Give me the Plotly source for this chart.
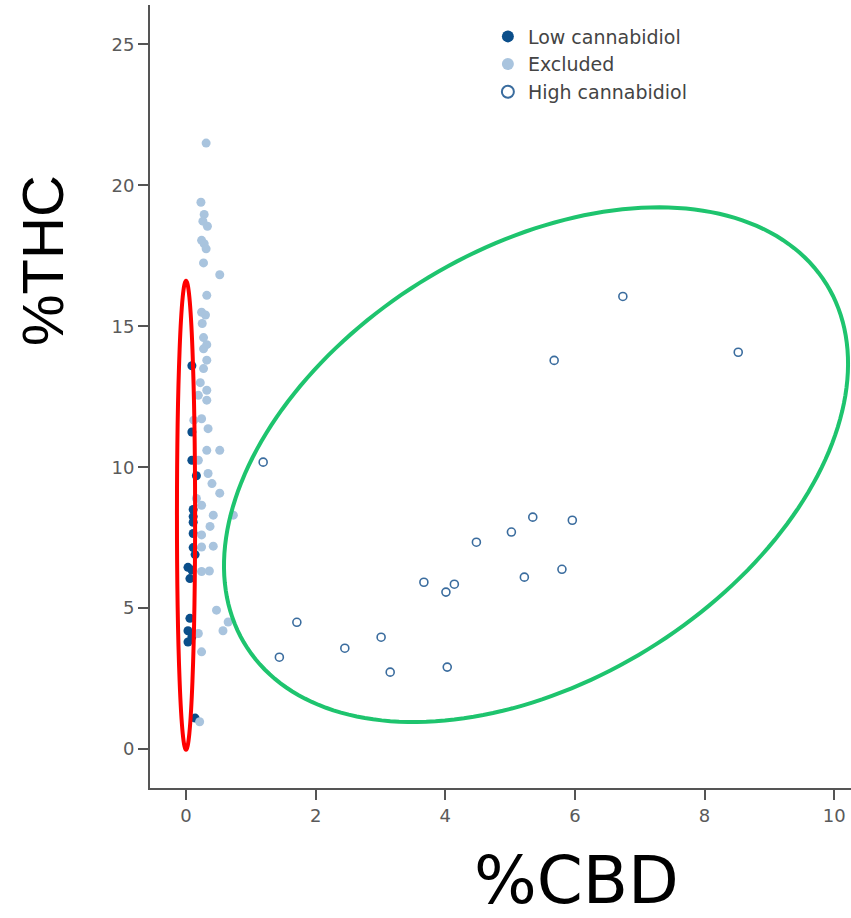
import numpy as np
import plotly.graph_objects as go

# ---- data ----
low_cbd_x = [0.09, 0.09, 0.09, 0.16, 0.11, 0.11, 0.11, 0.11, 0.11, 0.14, 0.03, 0.09, 0.06, 0.06, 0.03, 0.09, 0.03, 0.14]
low_cbd_y = [13.6, 11.25, 10.25, 9.7, 8.5, 8.25, 8.05, 7.65, 7.15, 6.9, 6.45, 6.35, 6.05, 4.64, 4.2, 3.98, 3.8, 1.1]

excl_x = [0.31, 0.23, 0.28, 0.26, 0.33, 0.24, 0.28, 0.31, 0.27, 0.52, 0.32, 0.24, 0.30, 0.25,
          0.27, 0.32, 0.27, 0.32, 0.27, 0.22, 0.32, 0.19, 0.32, 0.12, 0.24, 0.34, 0.32, 0.52,
          0.19, 0.34, 0.40, 0.52, 0.16, 0.24, 0.42, 0.73, 0.37, 0.24, 0.24, 0.42, 0.36, 0.24,
          0.47, 0.65, 0.57, 0.19, 0.24, 0.21]
excl_y = [21.5, 19.4, 18.97, 18.73, 18.55, 18.05, 17.93, 17.75, 17.25, 16.83, 16.1, 15.5, 15.4, 15.1,
          14.6, 14.35, 14.2, 13.8, 13.5, 13.0, 12.73, 12.55, 12.38, 11.67, 11.72, 11.37, 10.6, 10.6,
          10.25, 9.78, 9.42, 9.08, 8.89, 8.65, 8.3, 8.3, 7.9, 7.6, 7.17, 7.2, 6.32, 6.3,
          4.93, 4.51, 4.2, 4.1, 3.45, 0.97]

high_cbd_x = [1.19, 1.44, 1.71, 2.45, 3.01, 3.15, 3.67, 4.01, 4.14, 4.03, 4.48, 5.02, 5.35, 5.22, 5.68, 5.80, 5.96, 6.74, 8.52]
high_cbd_y = [10.18, 3.26, 4.50, 3.58, 3.97, 2.73, 5.92, 5.57, 5.85, 2.91, 7.34, 7.70, 8.23, 6.10, 13.79, 6.38, 8.12, 16.06, 14.08]

x_ticks = [0, 2, 4, 6, 8, 10]
y_ticks = [0, 5, 10, 15, 20, 25]

# ---- figure ----
fig = go.Figure()
fig.add_trace(go.Scatter(x=low_cbd_x, y=low_cbd_y, mode="markers", name="Low cannabidiol",
                         marker=dict(size=9, color="#0b4e8a", line=dict(width=0))))
fig.add_trace(go.Scatter(x=excl_x, y=excl_y, mode="markers", name="Excluded",
                         marker=dict(size=9, color="#a9c4de", line=dict(width=0))))
fig.add_trace(go.Scatter(x=high_cbd_x, y=high_cbd_y, mode="markers", name="High cannabidiol",
                         marker=dict(size=8, color="#3a6c9e", symbol="circle-open",
                                     line=dict(width=1.6))))

# highlight ellipses (annotations)
fig.add_shape(type="circle", xref="x", yref="y", x0=-0.14, x1=0.14, y0=-0.02, y1=16.62,
              line=dict(color="#ff0000", width=4))

# green rotated ellipse, defined in pixel-like units then scaled to data
sx, sy = 64.8, 28.2  # px per data unit
cx, cy = 5.40, 10.09
a_px, b_px, th = 342.0, 216.0, np.deg2rad(31.9)
t = np.linspace(0, 2 * np.pi, 200)
ex = cx + (a_px * np.cos(th) * np.cos(t) - b_px * np.sin(th) * np.sin(t)) / sx
ey = cy + (a_px * np.sin(th) * np.cos(t) + b_px * np.cos(th) * np.sin(t)) / sy
path = "M " + " L ".join(f"{x:.4f},{y:.4f}" for x, y in zip(ex, ey)) + " Z"
fig.add_shape(type="path", xref="x", yref="y", path=path, line=dict(color="#1ec46e", width=4))

axis_common = dict(showline=True, linecolor="#555555", linewidth=2, ticks="outside", ticklen=10,
                   tickwidth=1.5, tickcolor="#555555", showgrid=False, zeroline=False,
                   tickfont=dict(family="DejaVu Sans", size=18, color="#5a5a5a"))
fig.update_xaxes(range=[-0.556, 10.26], tickvals=x_ticks, ticktext=[str(v) for v in x_ticks], **axis_common)
fig.update_yaxes(range=[-1.38, 26.4], tickvals=y_ticks, ticktext=[str(v) for v in y_ticks], **axis_common)

fig.add_annotation(text="%CBD", xref="paper", yref="paper", x=0.609, y=-0.118, showarrow=False,
                   xanchor="center", yanchor="middle",
                   font=dict(family="DejaVu Sans", size=66, color="#000000"))
fig.add_annotation(text="%THC", xref="paper", yref="paper", x=-0.153, y=0.674, showarrow=False,
                   textangle=-90, xanchor="center", yanchor="middle",
                   font=dict(family="Liberation Sans, Arial", size=58, color="#000000"))

fig.update_layout(
    width=851, height=918,
    margin=dict(l=150, r=0, t=5, b=130),
    plot_bgcolor="white", paper_bgcolor="white",
    legend=dict(x=0.482, y=0.984, xanchor="left", yanchor="top", bgcolor="rgba(0,0,0,0)",
                font=dict(family="DejaVu Sans", size=19, color="#444444"),
                itemsizing="constant", tracegroupgap=0),
)

fig.write_html("out.html")
